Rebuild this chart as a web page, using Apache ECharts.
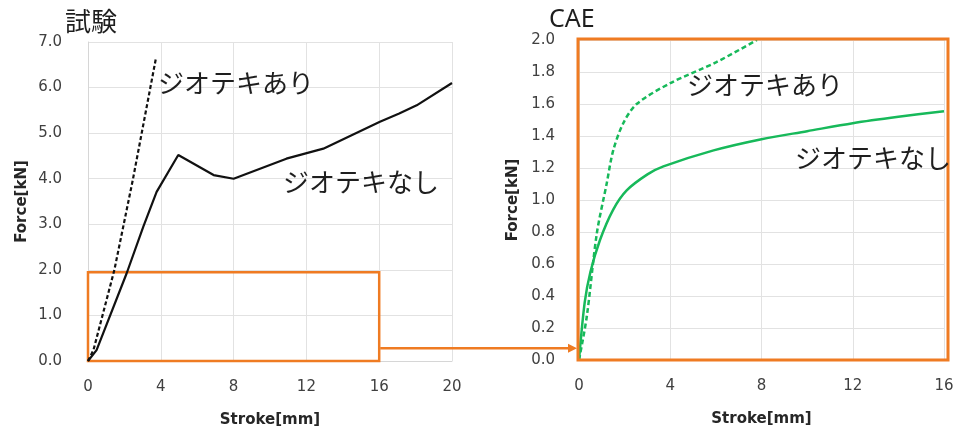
<!DOCTYPE html>
<html>
<head>
<meta charset="utf-8">
<script src="https://cdn.jsdelivr.net/npm/echarts@6/dist/echarts.min.js"></script>
<style>html,body{margin:0;padding:0;background:#fff}#c{width:956px;height:430px}</style>
</head>
<body>
<div id="c"></div>
<script>
// ---- data ----
const testNoGeoX = [0, 0.47, 2.12, 3.04, 3.77, 4.96, 6.9, 8, 10.9, 12.93, 16.04, 17.1, 18.06, 20];
const testNoGeoY = [0, 0.24, 1.92, 2.95, 3.71, 4.52, 4.08, 4.0, 4.44, 4.66, 5.25, 5.43, 5.61, 6.1];
const testGeoX = [0, 0.3, 1.45, 2.46, 3.74];
const testGeoY = [0, 0.24, 2.0, 3.97, 6.66];

const caeNoGeoX = [0, 0.25, 0.5, 0.92, 1.5, 2.09, 3.0, 3.7, 5.9, 8, 10, 12, 14, 16];
const caeNoGeoY = [0, 0.36, 0.55, 0.75, 0.94, 1.06, 1.16, 1.21, 1.31, 1.38, 1.43, 1.48, 1.52, 1.555];
const caeGeoX = [0, 0.34, 0.78, 1.21, 1.5, 1.94, 2.53, 4.0, 6.0, 7.8];
const caeGeoY = [0, 0.27, 0.79, 1.10, 1.31, 1.48, 1.60, 1.73, 1.86, 2.0];

const leftXTicks = [0, 4, 8, 12, 16, 20];
const leftYTicks = [0, 1, 2, 3, 4, 5, 6, 7];
const rightXTicks = [0, 4, 8, 12, 16];
const rightYTicks = [0, 0.2, 0.4, 0.6, 0.8, 1.0, 1.2, 1.4, 1.6, 1.8, 2.0];

const zoomBoxX = [0, 16];
const zoomBoxY = [0, 1.95];
const connectorLeftY = 0.28;   // kN on left chart where the connector leaves the box

const titleLeft = '試験';
const titleRight = 'CAE';
const labelGeo = 'ジオテキあり';
const labelNoGeo = 'ジオテキなし';
const xName = 'Stroke[mm]';
const yName = 'Force[kN]';

// ---- helpers ----
const zip = (xs, ys) => xs.map((x, i) => [x, ys[i]]);
const ORANGE = '#ef7b22';
const GREEN = '#17b95a';
const GRID = '#e2e2e2';
const TICK = '#404040';
const tickFont = { fontFamily: 'DejaVu Sans', fontSize: 15, color: TICK };
const nameFont = { fontFamily: 'DejaVu Sans', fontSize: 15, fontWeight: 'bold', color: '#262626' };
const jpFont = 'Noto Sans CJK JP';

function xAxis(gridIndex, max, ticks) {
  return {
    type: 'value', gridIndex, min: 0, max, interval: ticks[1] - ticks[0],
    name: xName, nameLocation: 'middle', nameGap: 52, nameTextStyle: nameFont,
    axisLine: { show: true, lineStyle: { color: '#d6d6d6' } },
    axisTick: { show: false },
    axisLabel: Object.assign({ margin: 19 }, tickFont),
    splitLine: { show: true, lineStyle: { color: GRID } }
  };
}
function yAxis(gridIndex, max, ticks, margin, gap) {
  return {
    type: 'value', gridIndex, min: 0, max, interval: +(ticks[1] - ticks[0]).toFixed(2),
    name: yName, nameLocation: 'middle', nameGap: gap, nameTextStyle: nameFont,
    axisLine: { show: true, lineStyle: { color: '#d6d6d6' } },
    axisTick: { show: false },
    axisLabel: Object.assign({ margin, formatter: v => v.toFixed(1) }, tickFont),
    splitLine: { show: true, lineStyle: { color: GRID } }
  };
}

const chart = echarts.init(document.getElementById('c'), null, { renderer: 'canvas' });

chart.setOption({
  animation: false,
  backgroundColor: '#fff',
  grid: [
    { left: 88, right: 504, top: 42, bottom: 69, outerBoundsMode: 'none', containLabel: false },
    { left: 579, right: 12, top: 40, bottom: 70, outerBoundsMode: 'none', containLabel: false }
  ],
  xAxis: [xAxis(0, 20, leftXTicks), xAxis(1, 16, rightXTicks)],
  yAxis: [yAxis(0, 7, leftYTicks, 26, 58), yAxis(1, 2, rightYTicks, 24, 58)],
  series: [
    {
      type: 'line', xAxisIndex: 0, yAxisIndex: 0, data: zip(testNoGeoX, testNoGeoY),
      showSymbol: false, lineStyle: { color: '#111', width: 2.2 },
      markArea: {
        silent: true,
        itemStyle: { color: 'rgba(0,0,0,0)', borderColor: ORANGE, borderWidth: 2.5 },
        data: [[{ coord: [zoomBoxX[0], zoomBoxY[0]] }, { coord: [zoomBoxX[1], zoomBoxY[1]] }]]
      }
    },
    {
      type: 'line', xAxisIndex: 0, yAxisIndex: 0, data: zip(testGeoX, testGeoY),
      showSymbol: false, lineStyle: { color: '#111', width: 2.2, type: [4, 2.5] }
    },
    {
      type: 'line', xAxisIndex: 1, yAxisIndex: 1, data: zip(caeNoGeoX, caeNoGeoY),
      showSymbol: false, smooth: 0.3, lineStyle: { color: GREEN, width: 2.5 }
    },
    {
      type: 'line', xAxisIndex: 1, yAxisIndex: 1, data: zip(caeGeoX, caeGeoY),
      showSymbol: false, smooth: 0.3, lineStyle: { color: GREEN, width: 2.5, type: [5, 3] }
    }
  ]
});

// graphics positioned via the library's scales
const boxTL = chart.convertToPixel({ gridIndex: 1 }, [0, 2]);
const boxBR = chart.convertToPixel({ gridIndex: 1 }, [16, 0]);
const connStart = chart.convertToPixel({ gridIndex: 0 }, [zoomBoxX[1], connectorLeftY]);
const connEndX = boxTL[0] - 2;

const textStyle = (txt, x, y, size, family) => ({
  type: 'text', x, y,
  style: { text: txt, font: `${size}px "${family}"`, fill: '#1e1e1e', verticalAlign: 'middle', align: 'left' },
  z: 100
});

chart.setOption({
  graphic: [
    {
      type: 'rect', z: 90,
      shape: { x: boxTL[0] - 1, y: boxTL[1] - 1, width: boxBR[0] - boxTL[0] + 5, height: boxBR[1] - boxTL[1] + 1 },
      style: { fill: 'none', stroke: ORANGE, lineWidth: 3 }
    },
    {
      type: 'line', z: 90,
      shape: { x1: connStart[0] + 1, y1: connStart[1], x2: connEndX - 6, y2: connStart[1] },
      style: { stroke: ORANGE, lineWidth: 2.5 }
    },
    {
      type: 'polygon', z: 90,
      shape: { points: [[connEndX - 9, connStart[1] - 4.5], [connEndX, connStart[1]], [connEndX - 9, connStart[1] + 4.5]] },
      style: { fill: ORANGE }
    },
    textStyle(titleLeft, 65, 21, 26, jpFont),
    textStyle(titleRight, 549, 20, 25, 'Noto Sans'),
    textStyle(labelGeo, 158, 83, 26, jpFont),
    textStyle(labelNoGeo, 283, 182, 26, jpFont),
    textStyle(labelGeo, 687, 85, 26, jpFont),
    textStyle(labelNoGeo, 795, 158, 26, jpFont)
  ]
});
</script>
</body>
</html>
